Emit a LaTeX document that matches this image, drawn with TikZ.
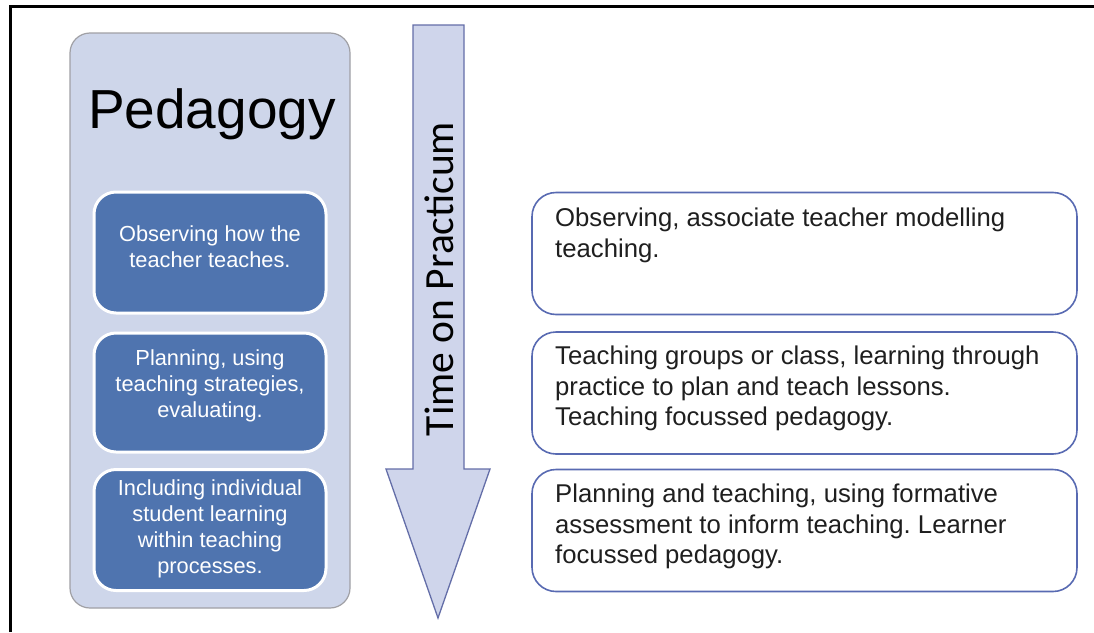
\documentclass[tikz,border=0pt]{standalone}
\usepackage{fontspec}
\setmainfont{Liberation Sans}
\newfontfamily\calib{Carlito}
\frenchspacing
\definecolor{pedfill}{RGB}{206,214,234}
\definecolor{pedline}{RGB}{160,160,165}
\definecolor{innerfill}{RGB}{79,116,175}
\definecolor{arrowfill}{RGB}{207,213,235}
\definecolor{arrowline}{RGB}{100,110,168}
\definecolor{stageline}{RGB}{88,106,178}
\begin{document}
\begin{tikzpicture}[x=1pt,y=-1pt,
  pedbox/.style={draw=pedline, fill=pedfill, line width=1.2pt, rounded corners=20pt, inner sep=0pt, outer sep=0pt, anchor=north west, minimum width=280pt, minimum height=575pt},
  innerbox/.style={draw=white, fill=innerfill, line width=3pt, rounded corners=22pt, inner sep=0pt, outer sep=0pt, anchor=north west, minimum width=232pt},
  stagebox/.style={draw=stageline, fill=white, line width=1.6pt, rounded corners=24pt, inner sep=0pt, outer sep=0pt, anchor=north west, minimum width=545pt, minimum height=122pt},
  innertext/.style={text=white, font=\fontsize{21.8}{26}\selectfont, align=center, inner sep=0pt, anchor=north},
  stagetext/.style={text=black!88, font=\fontsize{25.7}{30.5}\selectfont, align=left, inner sep=0pt, anchor=north west},
  timearrow/.style={draw=arrowline, fill=arrowfill, line width=1.3pt, line join=miter},
]
\useasboundingbox (0,0) rectangle (1094,632);
\fill[white] (0,0) rectangle (1094,632);
\draw[line width=3pt] (10,632) -- (10,6) -- (1094,6);

% Pedagogy column
\node[pedbox] (ped) at (70,33) {};
\node[font=\fontsize{55}{60}\selectfont, anchor=base, inner sep=0pt] (pedtitle) at (212,128) {Pedagogy};

\node[innerbox, minimum height=121pt] (in1) at (94,192) {};
\node[innerbox, minimum height=119pt] (in2) at (94,333) {};
\node[innerbox, minimum height=121pt] (in3) at (94,469.5) {};

\node[innertext] (t1) at (210,225) {Observing how the\\teacher teaches.};
\node[innertext] (t2) at (210,349) {Planning, using\\teaching strategies,\\evaluating.};
\node[innertext] (t3) at (210,479) {Including individual\\student learning\\within teaching\\processes.};

% Time arrow
\draw[timearrow] (413,25) -- (464,25) -- (464,469) -- (490,469) -- (438,618) -- (386,469) -- (413,469) -- cycle;
\node[rotate=90, font=\calib\fontsize{41.5}{48}\selectfont, inner sep=0pt] (time) at (439,279) {Time on Practicum};

% Stage boxes
\node[stagebox] (s1) at (532,192.5) {};
\node[stagebox] (s2) at (532,332) {};
\node[stagebox] (s3) at (532,469.5) {};

\node[stagetext] (st1) at (555,208) {Observing, associate teacher modelling\\teaching.};
\node[stagetext] (st2) at (555,346) {Teaching groups or class, learning through\\practice to plan and teach lessons.\\Teaching focussed pedagogy.};
\node[stagetext] (st3) at (555,484) {Planning and teaching, using formative\\assessment to inform teaching. Learner\\focussed pedagogy.};
\end{tikzpicture}
\end{document}
